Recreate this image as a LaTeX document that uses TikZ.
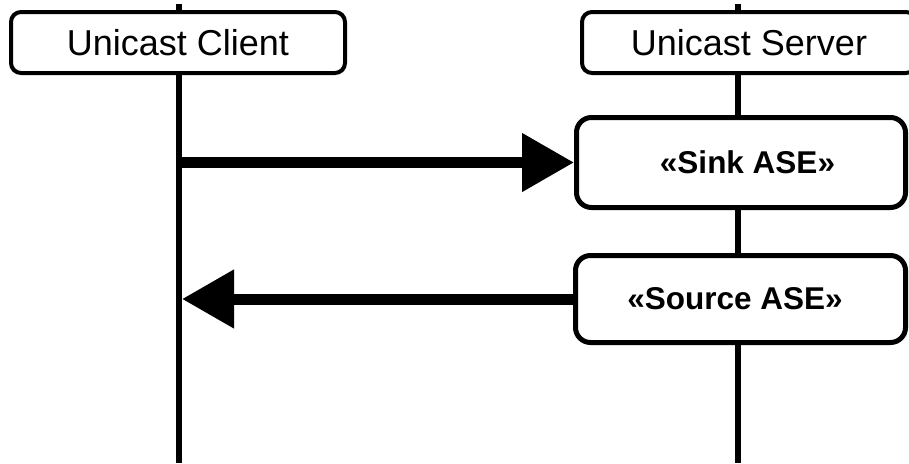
\documentclass[tikz,border=0pt]{standalone}
\usepackage{fontspec}
\setmainfont{Liberation Sans}
\usetikzlibrary{arrows.meta}

\begin{document}
\begin{tikzpicture}[x=1pt,y=-1pt,
  lifeline/.style={line width=6pt},
  actor/.style={draw,fill=white,line width=4pt,rounded corners=10pt,minimum width=334pt,minimum height=61pt,inner sep=0pt,font=\fontsize{36}{40}\selectfont},
  ase/.style={draw,fill=white,line width=5pt,rounded corners=15pt,inner sep=0pt},
  asetext/.style={inner sep=0pt,font=\fontsize{31.5}{36}\selectfont\bfseries},
  msg/.style={line width=11pt,-{Triangle[length=52pt,width=56pt]}}]
 \useasboundingbox (0,0) rectangle (909,463);
 \clip (0,0) rectangle (909,463);
 \coordinate (ctop) at (179,4);
 \coordinate (cbot) at (179,463);
 \coordinate (stop) at (738,4);
 \coordinate (sbot) at (738,463);
 \draw[lifeline] (ctop) -- (cbot);
 \draw[lifeline] (stop) -- (sbot);
 \node[actor] (client) at (178,42.5) {Unicast Client};
 \node[actor] (server) at (749,42.5) {Unicast Server};
 \node[ase,minimum width=329pt,minimum height=90pt,label={[asetext,xshift=6.5pt]center:«Sink ASE»}] (sink) at (741,162.5) {};
 \node[ase,minimum width=330pt,minimum height=87pt,label={[asetext,xshift=-5.5pt]center:«Source ASE»}] (source) at (740.5,299) {};
 \draw[msg] (sink.west -| ctop) -- (sink.west);
 \draw[msg] (source.west) -- ([xshift=3pt]source.west -| ctop);
\end{tikzpicture}
\end{document}
